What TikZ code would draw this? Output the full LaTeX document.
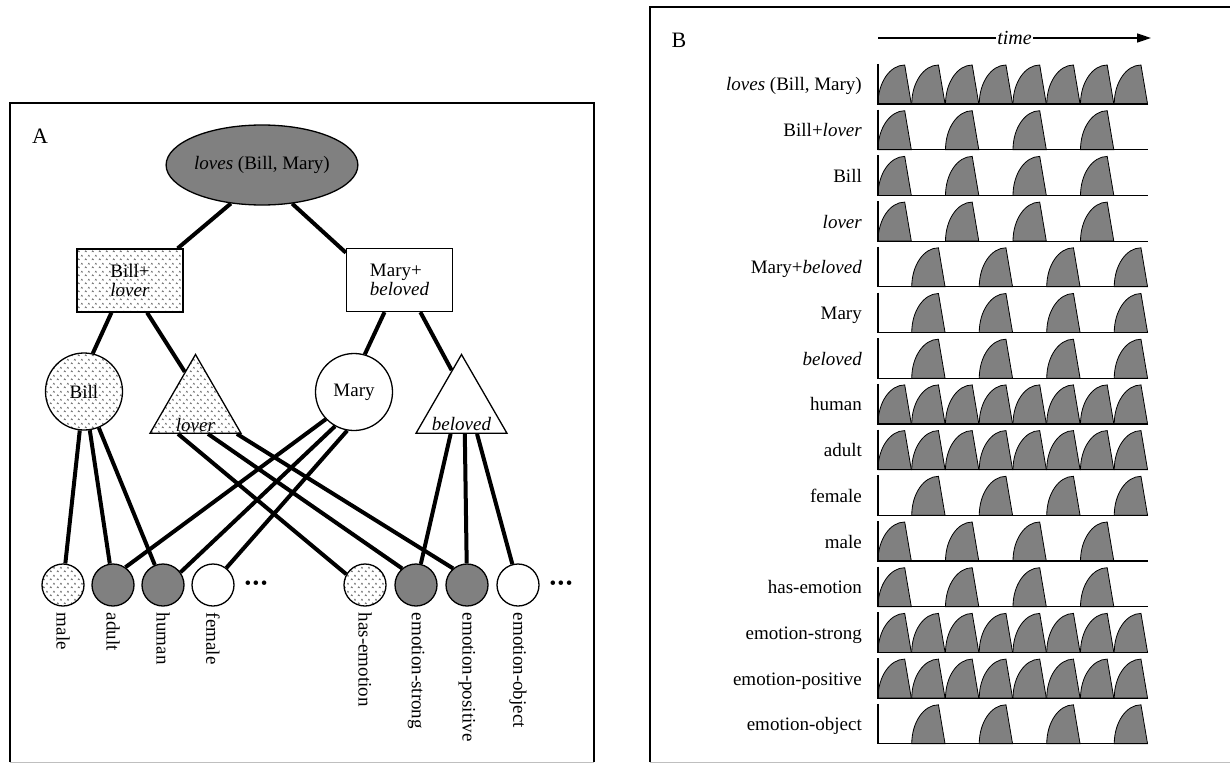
\documentclass[tikz,border=0pt]{standalone}
\usepackage{fontspec}
\setmainfont{Liberation Serif}
\usetikzlibrary{shapes,arrows.meta,patterns}

% light sprinkled fill of the partly active units
\pgfdeclarepatternformonly{sprinkle}{\pgfqpoint{0pt}{0pt}}{\pgfqpoint{7pt}{8pt}}{\pgfqpoint{7pt}{8pt}}{
    \pgfsetlinewidth{0.5pt}
    \pgfpathmoveto{\pgfqpoint{1pt}{1pt}}
    \pgfpathlineto{\pgfqpoint{2pt}{2.6pt}}
    \pgfpathlineto{\pgfqpoint{3pt}{1pt}}
    \pgfpathmoveto{\pgfqpoint{4.5pt}{5pt}}
    \pgfpathlineto{\pgfqpoint{5.5pt}{6.6pt}}
    \pgfpathlineto{\pgfqpoint{6.5pt}{5pt}}
    \pgfusepath{stroke}
}
\definecolor{unitgray}{gray}{0.5}
\newcommand{\moredots}{\textbullet\kern1.5pt\textbullet\kern1.5pt\textbullet}

\begin{document}
\begin{tikzpicture}[x=1pt, y=-1pt, node distance=50pt, font=\fontsize{19}{22}\selectfont]
    % Define styles
    \tikzstyle{panel} = [draw, line width=1.8pt]
    \tikzstyle{prop} = [ellipse, draw, line width=1.3pt, fill=unitgray,
        minimum width=186pt, minimum height=80pt, inner sep=0pt]
    \tikzstyle{subprop} = [rectangle, draw, line width=1.3pt, minimum width=106pt,
        minimum height=63pt, align=left, inner sep=0pt, font=\fontsize{19}{18.6}\selectfont]
    \tikzstyle{obj} = [circle, draw, line width=1.3pt, minimum size=77pt, inner sep=0pt]
    \tikzstyle{pred} = [regular polygon, regular polygon sides=3, draw, line width=1.3pt,
        minimum size=105pt, inner sep=0pt]
    \tikzstyle{sem} = [circle, draw, line width=1.3pt, minimum size=42pt, inner sep=0pt]
    \tikzstyle{semlabel} = [rotate=-90, anchor=west, inner sep=0pt]
    \tikzstyle{sprinkled} = [pattern=sprinkle, pattern color=black!70]
    \tikzstyle{firing} = [fill=unitgray]
    \tikzstyle{line} = [draw, line width=4pt]
    \tikzstyle{spike} = [draw, line width=0.8pt, fill=unitgray]
    \tikzstyle{rowaxis} = [draw, line width=1.2pt]

    \useasboundingbox (0,0) rectangle (1230,765);

    % Panel A
    \draw [panel] (10,762) -- (10,103) -- (594,103) -- (594,762);
    \draw [gray!50, line width=1pt] (10,762) -- (594,762);
    \node [font=\fontsize{22}{26}\selectfont] (labA) at (40,136) {A};

    \node [prop] (loves) at (262,165) {\textit{loves} (Bill, Mary)};
    \node [subprop, sprinkled] (billlover) at (130,280.5) {Bill+\\\textit{lover}};
    \node [subprop] (marybeloved) at (399.5,280) {Mary+\\\textit{beloved}};
    \node [obj, sprinkled] (bill) at (84,391.5) {Bill};
    \node [pred, sprinkled, label={[anchor=base, yshift=-18pt]center:\textit{lover}}] (lover) at (195.5,407) {};
    \node [obj] (mary) at (354,392) {Mary};
    \node [pred, label={[anchor=base, yshift=-17pt]center:\textit{beloved}}] (beloved) at (461.5,407) {};

    % Semantic units
    \node [sem, sprinkled] (male) at (63,585) {};
    \node [sem, firing, right of=male] (adult) {};
    \node [sem, firing, right of=adult] (human) {};
    \node [sem, right of=human] (female) {};
    \node [right of=female, node distance=43pt] (moreA) {\moredots};
    \node [sem, sprinkled] (hasemotion) at (365,585) {};
    \node [sem, firing, right of=hasemotion, node distance=51pt] (strong) {};
    \node [sem, firing, right of=strong, node distance=51pt] (positive) {};
    \node [sem, right of=positive, node distance=51pt] (object) {};
    \node [right of=object, node distance=43pt] (moreB) {\moredots};

    \node [semlabel] (male-l) at ([yshift=-6pt]male.south) {male};
    \node [semlabel] (adult-l) at ([yshift=-6pt]adult.south) {adult};
    \node [semlabel] (human-l) at ([yshift=-6pt]human.south) {human};
    \node [semlabel] (female-l) at ([yshift=-6pt]female.south) {female};
    \node [semlabel] (hasemotion-l) at ([yshift=-6pt]hasemotion.south) {has-emotion};
    \node [semlabel] (strong-l) at ([yshift=-6pt]strong.south) {emotion-strong};
    \node [semlabel] (positive-l) at ([yshift=-6pt]positive.south) {emotion-positive};
    \node [semlabel] (object-l) at ([yshift=-6pt]object.south) {emotion-object};

    % Panel A paths
    \path [line] (loves.231) -- (billlover.34);
    \path [line] (loves.308) -- (marybeloved.153);
    \path [line] (billlover.240) -- (bill.77);
    \path [line] (billlover.298) -- (lover.107);
    \path [line] (marybeloved.245) -- (mary.74);
    \path [line] (marybeloved.303) -- (beloved.105);
    \path [line] (bill) -- (male);
    \path [line] (bill) -- (adult);
    \path [line] (bill) -- (human);
    \path [line] (lover.237) -- (hasemotion.150);
    \path [line] (lover.295) -- (strong.130);
    \path [line] (lover.-33) -- (positive.130);
    \path [line] (mary.224) -- (adult.55);
    \path [line] (mary.241) -- (human.36);
    \path [line] (mary.260) -- (female.52);
    \path [line] (beloved.248) -- (strong);
    \path [line] (beloved.277) -- (positive);
    \path [line] (beloved.300) -- (object);

    % Panel B
    \draw [panel] (650,762) -- (650,7) -- (1235,7);
    \draw [gray!50, line width=1pt] (650,762) -- (1230,762);
    \node [font=\fontsize{22}{26}\selectfont] (labB) at (679,40) {B};
    \coordinate (tstart) at (878,38);
    \coordinate (tend) at (1151,38);
    \draw [line width=1.6pt, -{Triangle[length=14pt,width=9pt]}] (tstart) --
        node [fill=white, inner sep=1.5pt, font=\fontsize{20}{24}\selectfont] (timelbl) {\textit{time}} (tend);

    % Spike trains
    \foreach \r/\lbl/\slots in {
        0/{\textit{loves} (Bill, Mary)}/{0,...,7},
        1/{Bill+\textit{lover}}/{0,2,4,6},
        2/{Bill}/{0,2,4,6},
        3/{\textit{lover}}/{0,2,4,6},
        4/{Mary+\textit{beloved}}/{1,3,5,7},
        5/{Mary}/{1,3,5,7},
        6/{\textit{beloved}}/{1,3,5,7},
        7/{human}/{0,...,7},
        8/{adult}/{0,...,7},
        9/{female}/{1,3,5,7},
        10/{male}/{0,2,4,6},
        11/{has-emotion}/{0,2,4,6},
        12/{emotion-strong}/{0,...,7},
        13/{emotion-positive}/{0,...,7},
        14/{emotion-object}/{1,3,5,7}}
    {
        \pgfmathsetmacro{\ya}{104+45.7*\r}
        \node [anchor=base east, inner sep=0pt] (row\r) at (862,\ya-13) {\lbl};
        \foreach \k in \slots {
            \pgfmathsetmacro{\xs}{878+33.75*\k}
            \path [spike] (\xs,\ya) .. controls (\xs,\ya-21.5) and (\xs+12,\ya-39) ..
                (\xs+26.7,\ya-39) -- (\xs+33.3,\ya) -- cycle;
        }
        \path [rowaxis] (878,\ya-40) -- (878,\ya) -- (1148,\ya);
    }
\end{tikzpicture}
\end{document}
